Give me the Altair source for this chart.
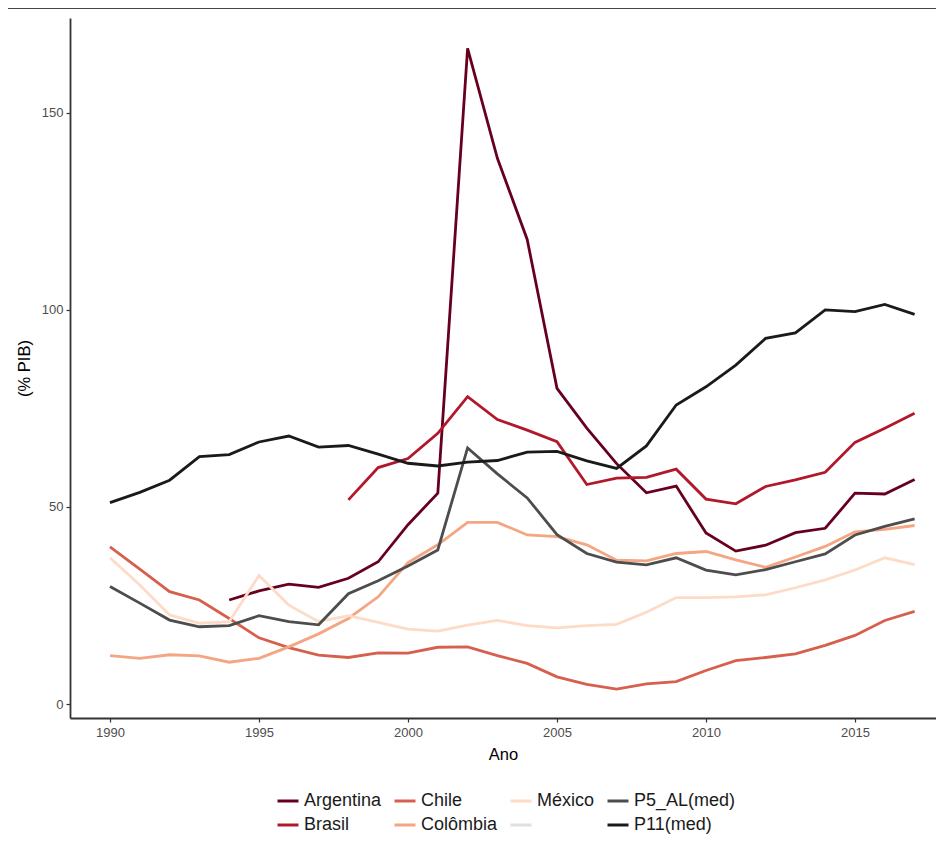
import altair as alt
import pandas as pd

years = list(range(1990, 2018))

argentina = [None, None, None, None,
             26.4, 28.7, 30.4, 29.6, 31.9, 36.1, 45.5, 53.5, 166.4, 138.5, 117.9, 80.1,
             70.0, 61.0, 53.6, 55.3, 43.4, 38.8, 40.3, 43.5, 44.6, 53.5, 53.3, 57.0]
brasil = [None] * 8 + [51.8, 60.0, 62.3, 68.7, 78.0, 72.2, 69.5, 66.6, 55.7, 57.3, 57.5,
                       59.6, 52.0, 50.8, 55.2, 56.9, 58.8, 66.4, 70.0, 73.8]
chile = [39.9, 34.2, 28.5, 26.4, 21.7, 16.8, 14.3, 12.4, 11.8, 13.0, 12.9, 14.4, 14.5, 12.3,
         10.3, 6.9, 5.0, 3.8, 5.1, 5.7, 8.5, 11.0, 11.8, 12.7, 14.9, 17.4, 21.2, 23.5]
colombia = [12.3, 11.6, 12.5, 12.2, 10.6, 11.6, 14.5, 17.8, 21.7, 27.2, 35.9, 40.4, 46.1, 46.1,
            42.9, 42.5, 40.4, 36.5, 36.3, 38.2, 38.7, 36.6, 34.7, 37.3, 40.0, 43.7, 44.3, 45.3]
mexico = [37.1, 30.2, 22.6, 20.5, 20.9, 32.6, 25.1, 20.9, 22.4, 20.7, 19.0, 18.5, 20.0, 21.2,
          19.9, 19.3, 19.9, 20.2, 23.3, 27.0, 27.0, 27.2, 27.7, 29.5, 31.5, 34.0, 37.1, 35.4]
p5_al = [29.8, 25.6, 21.3, 19.6, 19.9, 22.4, 20.9, 20.1, 28.0, 31.3, 35.0, 39.1, 65.0, 58.4,
         52.3, 43.0, 38.2, 36.0, 35.3, 37.1, 34.0, 32.8, 34.1, 36.1, 38.1, 42.9, 45.1, 47.0]
p11 = [51.1, 53.7, 56.8, 62.8, 63.3, 66.5, 68.0, 65.2, 65.6, 63.4, 61.1, 60.4, 61.4, 61.8,
       63.9, 64.1, 61.7, 59.8, 65.5, 75.9, 80.5, 86.0, 92.8, 94.2, 100.0, 99.6, 101.4, 98.9]

series_names = ["Argentina", "Brasil", "Chile", "Colômbia", "México", "P5_AL(med)", "P11(med)"]
series_values = [argentina, brasil, chile, colombia, mexico, p5_al, p11]

legend_order = ["Argentina", "Chile", "México", "P5_AL(med)",
                "Brasil", "Colômbia", " ", "P11(med)"]
legend_colors = ["#67001f", "#d6604d", "#fddbc7", "#4d4d4d",
                 "#b2182b", "#f4a582", "#e0e0e0", "#1a1a1a"]

rows = []
for name, vals in zip(series_names, series_values):
    for yr, v in zip(years, vals):
        if v is not None:
            rows.append({"Ano": yr, "valor": v, "serie": name})
df = pd.DataFrame(rows)

FONT = "Liberation Sans"

lines = alt.Chart(df).mark_line(strokeWidth=2.8, clip=True).encode(
    x=alt.X("Ano:Q",
            scale=alt.Scale(domain=[1988.658, 2017.718], nice=False, zero=False),
            axis=alt.Axis(values=[1990, 1995, 2000, 2005, 2010, 2015], format="d",
                          title="Ano", grid=False, labelPadding=4, titlePadding=7)),
    y=alt.Y("valor:Q",
            scale=alt.Scale(domain=[-3.553, 174.1], nice=False, zero=False),
            axis=alt.Axis(values=[0, 50, 100, 150], title="(% PIB)", grid=False,
                          labelPadding=3, titlePadding=9)),
    color=alt.Color("serie:N",
                    scale=alt.Scale(domain=legend_order, range=legend_colors),
                    legend=alt.Legend(orient="none", legendX=206, legendY=771,
                                      direction="horizontal", columns=4, title=None,
                                      symbolType="stroke", symbolSize=441,
                                      symbolStrokeWidth=3, labelFontSize=18,
                                      labelFont=FONT, labelColor="#1a1a1a",
                                      columnPadding=6, rowPadding=3, labelOffset=4,
                                      labelLimit=0)),
)

top_rule = alt.Chart(pd.DataFrame({"k": [0]})).mark_rule(
    color="#444444", strokeWidth=1, clip=False
).encode(x=alt.value(-62), x2=alt.value(866), y=alt.value(-9.5))

chart = alt.layer(lines, top_rule).properties(
    width=866, height=700,
    autosize=alt.AutoSizeParams(type="none"),
    padding={"left": 62, "top": 10, "right": 0, "bottom": 117},
).configure_view(stroke=None).configure_axis(
    domainColor="#333333", domainWidth=1.8,
    tickColor="#333333", tickWidth=1.2, tickSize=4,
    labelColor="#4d4d4d", labelFontSize=13, labelFont=FONT,
    titleColor="#000000", titleFontSize=16.5, titleFont=FONT, titleFontWeight="normal",
)

chart.save("out.html", embed_options={"renderer": "svg", "actions": False})
